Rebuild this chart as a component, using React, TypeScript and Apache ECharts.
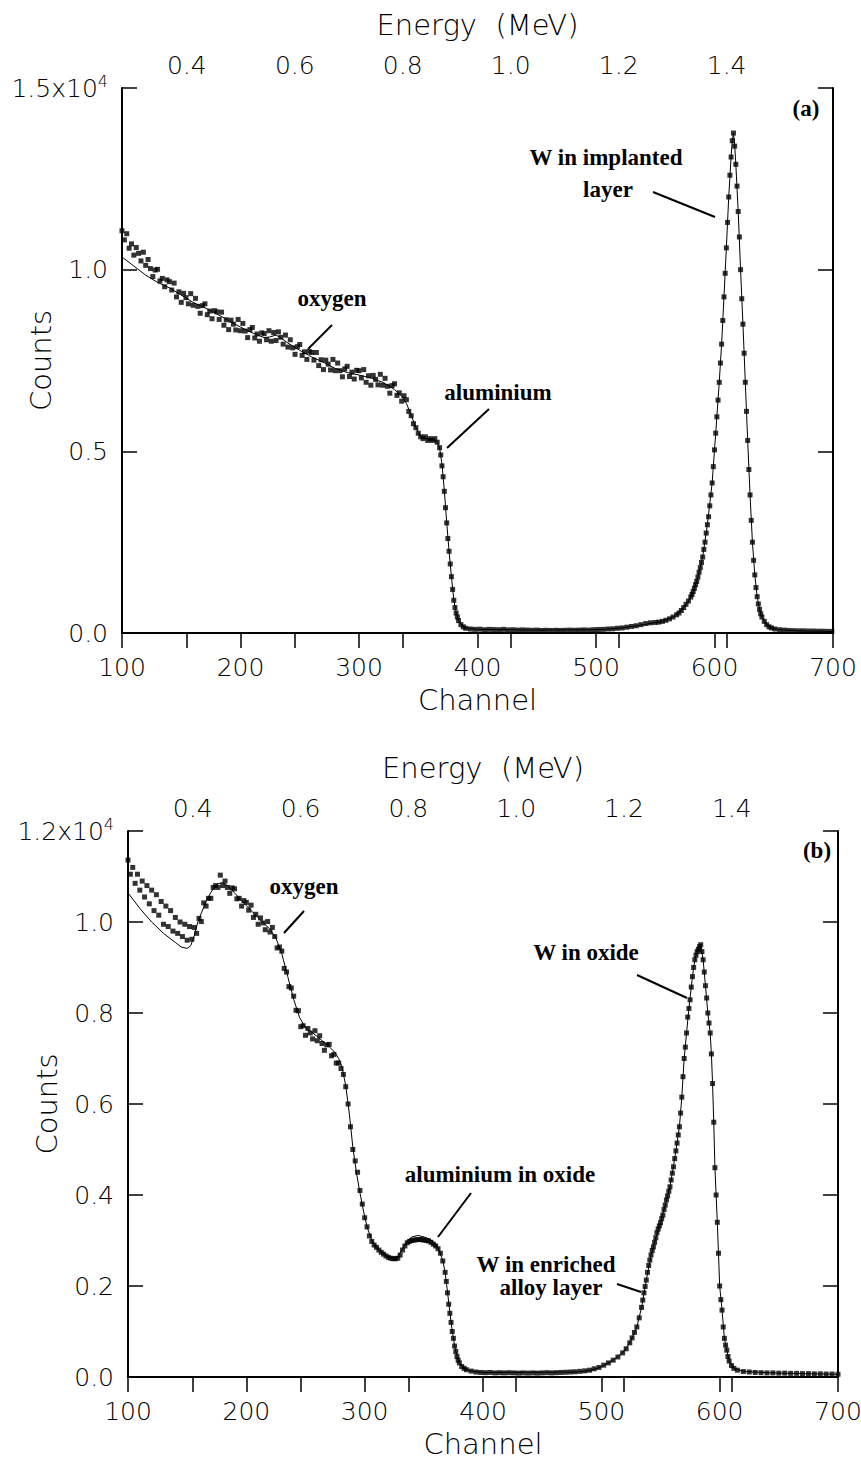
import React, { useEffect, useRef } from "react";
import * as echarts from "echarts";

const W = 861;
const H = 1465;

// ---------- tick values ----------
const channelTicks = [100, 200, 300, 400, 500, 600, 700];
const energyTicks = [0.4, 0.6, 0.8, 1.0, 1.2, 1.4];
const energyRange = [0.28, 1.597];
const countsMaxA = 15000;
const countsStepA = 5000;
const countsMaxB = 12000;
const countsStepB = 2000;

// ---------- panel (a): measured spectrum [channel, counts] ----------
const measuredA: [number, number][] = [
  [100, 11070], [102, 10820], [104, 10990], [106, 10590], [108, 10710], [110, 10400], [112, 10610], [114, 10450], [116, 10240], [118, 10480],
  [120, 10120], [122, 10280], [124, 10030], [126, 9810], [128, 9990], [130, 10010], [132, 9690], [134, 9760], [136, 9530], [138, 9720],
  [140, 9670], [142, 9440], [144, 9630], [146, 9250], [148, 9390], [150, 9100], [152, 9350], [154, 9230], [156, 9060], [158, 9340],
  [160, 9020], [162, 9210], [164, 8990], [166, 8800], [168, 9010], [170, 9060], [172, 8760], [174, 8860], [176, 8650], [178, 8870],
  [180, 8840], [182, 8630], [184, 8830], [186, 8470], [188, 8620], [190, 8350], [192, 8610], [194, 8500], [196, 8340], [198, 8630],
  [200, 8320], [202, 8520], [204, 8310], [206, 8130], [208, 8350], [210, 8410], [212, 8120], [214, 8230], [216, 8030], [218, 8260],
  [220, 8240], [222, 8070], [224, 8320], [226, 8030], [228, 8270], [230, 8050], [232, 8290], [234, 8140], [236, 7950], [238, 8200],
  [240, 7870], [242, 8070], [244, 7850], [246, 7670], [248, 7880], [250, 7940], [252, 7640], [254, 7740], [256, 7530], [258, 7750],
  [260, 7720], [262, 7510], [264, 7720], [266, 7360], [268, 7520], [270, 7250], [272, 7510], [274, 7400], [276, 7240], [278, 7530],
  [280, 7220], [282, 7430], [284, 7220], [286, 7050], [288, 7270], [290, 7340], [292, 7060], [294, 7180], [296, 6990], [298, 7230],
  [300, 7220], [302, 7020], [304, 7250], [306, 6900], [308, 7080], [310, 6820], [312, 7090], [314, 6980], [316, 6830], [318, 7120],
  [320, 6820], [322, 7010], [324, 6790], [326, 6600], [328, 6810], [330, 6860], [332, 6540], [334, 6610], [336, 6380], [338, 6530],
  [340, 6420], [342, 6100], [344, 5980], [346, 5760], [348, 5650], [350, 5500], [352, 5400], [354, 5350], [356, 5400], [358, 5300],
  [360, 5350], [362, 5300], [364, 5350], [366, 5250], [368, 5100], [369, 4900], [370, 4600], [371, 4300], [372, 3900], [373, 3450],
  [374, 3030], [375, 2600], [376, 2250], [377, 1900], [378, 1550], [379, 1200], [380, 900], [381, 700], [382, 550], [383, 440],
  [384, 340], [386, 230], [388, 170], [390, 130], [394, 110], [398, 100], [402, 105], [406, 90], [410, 100], [414, 95],
  [418, 90], [422, 100], [426, 85], [430, 90], [434, 80], [438, 85], [442, 80], [446, 75], [450, 80], [454, 70],
  [458, 75], [462, 70], [466, 75], [470, 70], [474, 75], [478, 80], [482, 75], [486, 80], [490, 85], [494, 80],
  [498, 90], [502, 95], [506, 100], [510, 110], [514, 115], [518, 130], [522, 140], [526, 160], [530, 180], [534, 200],
  [538, 230], [542, 260], [546, 280], [550, 290], [553, 300], [556, 320], [559, 350], [562, 390], [565, 440], [568, 500],
  [570, 550], [572, 620], [574, 700], [576, 790], [578, 880], [580, 990], [581, 1060], [582, 1140], [583, 1230], [584, 1330],
  [585, 1420], [586, 1540], [587, 1670], [588, 1800], [589, 1940], [590, 2090], [591, 2300], [592, 2500], [593, 2750], [594, 2980],
  [595, 3200], [596, 3500], [597, 3800], [598, 4130], [599, 4580], [600, 5040], [601, 5500], [602, 5950], [603, 6410], [604, 6900],
  [605, 7430], [606, 7950], [607, 8600], [608, 9250], [609, 9900], [610, 10600], [611, 11300], [612, 12000], [613, 12600], [614, 13100],
  [615, 13550], [616, 13760], [617, 13400], [618, 12900], [619, 12300], [620, 11600], [621, 10900], [622, 10000], [623, 9200], [624, 8500],
  [625, 7700], [626, 6900], [627, 6100], [628, 5300], [629, 4500], [630, 3800], [631, 3100], [632, 2500], [633, 2000], [634, 1600],
  [635, 1250], [636, 1000], [637, 800], [638, 650], [639, 530], [640, 440], [642, 320], [644, 230], [646, 170], [648, 140],
  [651, 110], [655, 90], [659, 80], [663, 70], [667, 65], [671, 60], [675, 60], [679, 55], [683, 55], [687, 50],
  [691, 50], [695, 45], [699, 45],
];

// ---------- panel (a): simulated fit [channel, counts] ----------
const fitA: [number, number][] = [
  [100, 10350], [110, 10100], [120, 9850], [130, 9650], [140, 9500], [150, 9300], [160, 9100], [170, 8950], [180, 8780], [190, 8600],
  [200, 8420], [210, 8260], [220, 8130], [225, 8150], [230, 8200], [235, 8100], [240, 7980], [250, 7780], [260, 7600], [270, 7450],
  [280, 7280], [290, 7170], [300, 7100], [310, 7020], [320, 6900], [330, 6700], [336, 6520], [340, 6320], [344, 6000], [348, 5650],
  [352, 5420], [356, 5360], [362, 5320], [366, 5250], [368, 5100], [370, 4650], [372, 3920], [374, 3050], [376, 2250], [378, 1550],
  [380, 920], [382, 560], [384, 350], [387, 200], [390, 140], [400, 100], [450, 80], [500, 90], [520, 130], [540, 230],
  [555, 310], [565, 440], [572, 630], [578, 880], [582, 1140], [586, 1540], [590, 2090], [594, 2980], [598, 4130], [600, 5040],
  [602, 5950], [604, 6900], [606, 7950], [608, 9250], [610, 10600], [612, 12000], [614, 13100], [615, 13550], [616, 13760], [617, 13450],
  [618, 12900], [620, 11600], [622, 10000], [624, 8500], [626, 6900], [628, 5300], [630, 3800], [632, 2500], [634, 1600], [636, 1000],
  [638, 650], [640, 440], [644, 230], [648, 140], [655, 90], [670, 60], [700, 40],
];

// ---------- panel (b): measured spectrum [channel, counts] ----------
const measuredB: [number, number][] = [
  [100, 11360], [102, 11050], [104, 11200], [106, 10850], [108, 11050], [110, 10700], [112, 10900], [114, 10550], [116, 10800], [118, 10400],
  [120, 10700], [122, 10250], [124, 10600], [126, 10150], [128, 10450], [130, 9950], [132, 10350], [134, 9900], [136, 10250], [138, 9800],
  [140, 10100], [142, 9750], [144, 10000], [146, 9680], [148, 9950], [150, 9600], [152, 9900], [154, 9620], [156, 9880], [158, 9750],
  [160, 10080], [162, 10010], [164, 10420], [166, 10350], [168, 10520], [170, 10520], [172, 10760], [174, 10800], [176, 10760], [178, 11030],
  [180, 10800], [182, 10900], [184, 10760], [186, 10630], [188, 10750], [190, 10730], [192, 10510], [194, 10520], [196, 10350], [198, 10470],
  [200, 10430], [202, 10260], [204, 10370], [206, 10100], [208, 10170], [210, 9950], [212, 10090], [214, 9980], [216, 9830], [218, 10010],
  [220, 9780], [222, 9880], [224, 9680], [226, 9430], [228, 9450], [230, 9360], [232, 8980], [234, 8900], [236, 8580], [238, 8550],
  [240, 8370], [242, 8060], [244, 8050], [246, 7700], [248, 7720], [250, 7510], [252, 7660], [254, 7560], [256, 7430], [258, 7610],
  [260, 7390], [262, 7500], [264, 7330], [266, 7180], [268, 7300], [270, 7310], [272, 7060], [274, 7090], [276, 6900], [278, 6900],
  [280, 6780], [282, 6650], [284, 6380], [286, 6000], [288, 5500], [290, 5000], [292, 4750], [294, 4500], [296, 4100], [298, 3800],
  [300, 3500], [302, 3300], [304, 3100], [306, 2980], [308, 2900], [310, 2850], [312, 2790], [314, 2740], [316, 2700], [318, 2660],
  [320, 2630], [322, 2610], [324, 2600], [326, 2600], [328, 2610], [330, 2680], [332, 2790], [334, 2880], [336, 2950], [338, 2980],
  [340, 3000], [342, 3010], [344, 3020], [346, 3020], [348, 3020], [350, 3010], [352, 3000], [354, 2990], [356, 2960], [358, 2920],
  [360, 2880], [362, 2820], [364, 2720], [366, 2550], [368, 2300], [369, 2100], [370, 1850], [371, 1600], [372, 1400], [373, 1200],
  [374, 1000], [375, 850], [376, 680], [377, 560], [378, 450], [379, 370], [380, 310], [382, 230], [384, 190], [386, 160],
  [390, 130], [394, 110], [398, 100], [402, 95], [406, 100], [410, 90], [414, 95], [418, 90], [422, 95], [426, 90],
  [430, 85], [434, 90], [438, 85], [442, 90], [446, 85], [450, 90], [454, 95], [458, 90], [462, 95], [466, 100],
  [470, 105], [474, 110], [478, 115], [482, 125], [486, 135], [490, 150], [494, 180], [498, 210], [502, 260], [506, 310],
  [510, 370], [514, 440], [518, 530], [521, 620], [524, 750], [526, 860], [528, 980], [530, 1100], [532, 1300], [534, 1530],
  [535, 1690], [536, 1850], [537, 1990], [538, 2130], [539, 2300], [540, 2450], [541, 2570], [542, 2680], [543, 2780], [544, 2860],
  [545, 2960], [546, 3060], [547, 3170], [548, 3250], [549, 3320], [550, 3390], [551, 3480], [552, 3560], [553, 3680], [554, 3780],
  [555, 3890], [556, 3980], [557, 4080], [558, 4180], [559, 4330], [560, 4480], [561, 4620], [562, 4800], [563, 4970], [564, 5140],
  [565, 5320], [566, 5500], [567, 5800], [568, 6150], [569, 6600], [570, 7000], [571, 7250], [572, 7560], [573, 7910], [574, 8100],
  [575, 8290], [576, 8570], [577, 8800], [578, 9000], [579, 9170], [580, 9270], [581, 9350], [582, 9400], [583, 9460], [584, 9500],
  [585, 9350], [586, 9170], [587, 8900], [588, 8600], [589, 8330], [590, 8000], [591, 7780], [592, 7560], [593, 7100], [594, 6450],
  [595, 5600], [596, 4600], [597, 4000], [598, 3400], [599, 2720], [600, 2000], [601, 1700], [602, 1470], [603, 1100], [604, 850],
  [605, 700], [606, 590], [607, 450], [608, 350], [610, 250], [612, 190], [615, 150], [620, 120], [625, 110], [630, 100],
  [635, 95], [640, 90], [645, 90], [650, 85], [655, 85], [660, 80], [665, 80], [670, 75], [675, 75], [680, 70],
  [685, 70], [690, 65], [695, 65], [700, 60],
];

// ---------- panel (b): simulated fit [channel, counts] ----------
const fitB: [number, number][] = [
  [100, 10640], [110, 10300], [120, 10000], [130, 9750], [140, 9550], [145, 9450], [150, 9420], [153, 9480], [156, 9700], [159, 10000],
  [162, 10200], [166, 10450], [170, 10650], [175, 10830], [180, 10870], [185, 10780], [190, 10640], [200, 10360], [210, 10090], [220, 9840],
  [225, 9650], [230, 9300], [235, 8800], [240, 8300], [245, 7900], [250, 7680], [260, 7480], [270, 7260], [275, 7130], [278, 7000],
  [281, 6800], [284, 6400], [287, 5800], [290, 5050], [293, 4500], [296, 4050], [299, 3650], [302, 3300], [306, 3000], [310, 2850],
  [316, 2710], [322, 2620], [328, 2640], [332, 2820], [336, 3000], [340, 3080], [345, 3110], [350, 3080], [355, 3030], [360, 2930],
  [363, 2780], [366, 2560], [368, 2300], [370, 1870], [372, 1420], [374, 1010], [376, 690], [378, 460], [380, 320], [384, 190],
  [390, 130], [400, 100], [480, 110], [490, 140], [500, 220], [510, 370], [518, 530], [524, 750], [530, 1100], [534, 1530],
  [538, 2130], [542, 2680], [546, 3060], [550, 3390], [554, 3780], [558, 4180], [562, 4800], [566, 5500], [568, 6150], [570, 7000],
  [572, 7560], [574, 8100], [576, 8570], [578, 9000], [580, 9270], [582, 9400], [584, 9500], [586, 9170], [588, 8600], [590, 8000],
  [592, 7560], [593, 7100], [594, 6450], [595, 5600], [596, 4600], [597, 4000], [598, 3400], [599, 2720], [600, 2000], [602, 1470],
  [604, 850], [606, 590], [608, 350], [612, 190], [620, 120], [650, 85], [700, 60],
];

// ---------- fonts ----------
const SANS = '"DejaVu Sans", sans-serif';
const SERIF = '"Liberation Serif", "Times New Roman", serif';
const AXIS_FONT = 25;
const NAME_FONT = 29;
const ANN_FONT = 23;

function annText(text: string, x: number, y: number) {
  return {
    type: "text",
    x,
    y,
    style: {
      text,
      fill: "#000",
      fontFamily: SERIF,
      fontWeight: "bold",
      fontSize: ANN_FONT,
      align: "center",
      verticalAlign: "middle",
    },
  };
}
function annLine(x1: number, y1: number, x2: number, y2: number) {
  return {
    type: "line",
    shape: { x1, y1, x2, y2 },
    style: { stroke: "#000", lineWidth: 2 },
  };
}

function buildOption() {
  const grids = [
    { left: 122, top: 88, width: 711, height: 545, outerBoundsMode: "none" },
    { left: 128, top: 831, width: 710, height: 546, outerBoundsMode: "none" },
  ];

  const axisLine = { show: true, lineStyle: { color: "#000", width: 2 } };
  const labelBase = { color: "#000", fontFamily: SANS, fontSize: AXIS_FONT, fontWeight: 200 };
  const nameBase = { color: "#000", fontFamily: SANS, fontSize: NAME_FONT, fontWeight: 200 };

  const channelAxis = (gridIndex: number) => ({
    type: "value",
    gridIndex,
    position: "bottom",
    min: channelTicks[0],
    max: channelTicks[channelTicks.length - 1],
    interval: channelTicks[1] - channelTicks[0],
    axisLine,
    axisTick: { show: true, inside: false, length: 15, lineStyle: { color: "#000", width: 1.5 } },
    axisLabel: { ...labelBase, margin: 22, showMinLabel: true, showMaxLabel: true },
    splitLine: { show: false },
    name: "Channel",
    nameLocation: "middle",
    nameGap: 52,
    nameMoveOverlap: false,
    nameTextStyle: nameBase,
  });

  const energyAxis = (gridIndex: number) => ({
    type: "value",
    gridIndex,
    position: "top",
    min: energyRange[0],
    max: energyRange[1],
    axisLine,
    axisTick: {
      show: true,
      inside: true,
      length: 15,
      customValues: energyTicks,
      lineStyle: { color: "#000", width: 1.5 },
    },
    axisLabel: {
      ...labelBase,
      margin: 10,
      customValues: energyTicks,
      formatter: (v: number) => v.toFixed(1),
    },
    splitLine: { show: false },
    name: "Energy  (MeV)",
    nameLocation: "middle",
    nameGap: 49,
    nameMoveOverlap: false,
    nameTextStyle: nameBase,
  });

  const countsAxis = (gridIndex: number, max: number, step: number) => ({
    type: "value",
    gridIndex,
    position: "left",
    min: 0,
    max,
    interval: step,
    axisLine,
    axisTick: { show: true, inside: true, length: 15, lineStyle: { color: "#000", width: 1.5 } },
    axisLabel: {
      ...labelBase,
      margin: 14,
      formatter: (v: number) =>
        v === max ? "{m|" + (v / 10000).toFixed(1) + "x10}{s|4}" : (v / 10000).toFixed(1),
      rich: {
        m: { ...labelBase, lineHeight: 30 },
        s: { ...labelBase, fontSize: 16, lineHeight: 16, verticalAlign: "top" },
      },
    },
    splitLine: { show: false },
    name: "Counts",
    nameLocation: "middle",
    nameGap: 67,
    nameRotate: 90,
    nameMoveOverlap: false,
    nameTextStyle: nameBase,
  });

  const mirrorAxis = (gridIndex: number, max: number, step: number) => ({
    type: "value",
    gridIndex,
    position: "right",
    min: 0,
    max,
    interval: step,
    axisLine,
    axisTick: { show: true, inside: true, length: 15, lineStyle: { color: "#000", width: 1.5 } },
    axisLabel: { show: false },
    splitLine: { show: false },
  });

  const scatter = (data: [number, number][], axisIdx: number) => ({
    type: "scatter",
    xAxisIndex: axisIdx,
    yAxisIndex: axisIdx,
    data,
    symbol: "rect",
    symbolSize: 5,
    itemStyle: { color: "#000" },
    z: 3,
  });
  const fit = (data: [number, number][], axisIdx: number) => ({
    type: "line",
    xAxisIndex: axisIdx,
    yAxisIndex: axisIdx,
    data,
    symbol: "none",
    lineStyle: { color: "#000", width: 1 },
    z: 2,
  });

  return {
    animation: false,
    backgroundColor: "#fff",
    grid: grids,
    xAxis: [channelAxis(0), energyAxis(0), channelAxis(1), energyAxis(1)],
    yAxis: [
      countsAxis(0, countsMaxA, countsStepA),
      mirrorAxis(0, countsMaxA, countsStepA),
      countsAxis(1, countsMaxB, countsStepB),
      mirrorAxis(1, countsMaxB, countsStepB),
    ],
    series: [
      fit(fitA, 0),
      scatter(measuredA, 0),
      fit(fitB, 2),
      scatter(measuredB, 2),
    ],
    graphic: [
      annText("(a)", 806, 108),
      annText("W in implanted", 606, 157),
      annText("layer", 608, 189),
      annLine(653, 192, 715, 217),
      annText("oxygen", 332, 298),
      annLine(332, 325, 308, 349),
      annText("aluminium", 498, 392),
      annLine(489, 409, 447, 448),
      annText("(b)", 817, 850),
      annText("oxygen", 304, 886),
      annLine(304, 911, 284, 933),
      annText("W in oxide", 586, 952),
      annLine(637, 975, 687, 998),
      annText("aluminium in oxide", 500, 1174),
      annLine(471, 1193, 438, 1237),
      annText("W in enriched", 546, 1264),
      annText("alloy layer", 551, 1287),
      annLine(617, 1284, 641, 1292),
    ],
  };
}

export default function App() {
  const ref = useRef<HTMLDivElement>(null);
  useEffect(() => {
    document.body.style.margin = "0";
    if (!ref.current) return;
    const chart = echarts.init(ref.current, null, { renderer: "svg", width: W, height: H });
    chart.setOption(buildOption() as any);
    return () => chart.dispose();
  }, []);
  return <div ref={ref} style={{ width: W, height: H }} />;
}
